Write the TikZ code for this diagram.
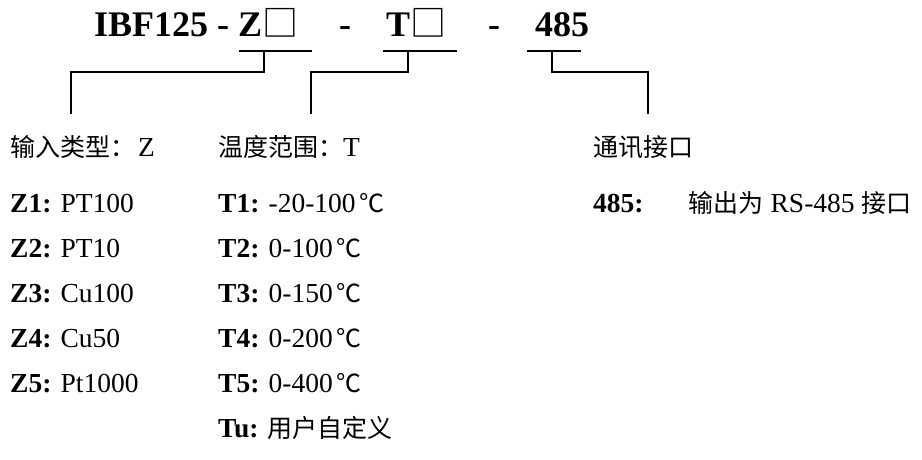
\documentclass[tikz,border=0pt]{standalone}
\usepackage{fontspec}
\setmainfont{Liberation Serif}
\newfontfamily\cjk{Noto Sans CJK SC}
\newcommand\zh[1]{{\cjk\fontsize{25}{30}\selectfont #1}}
\newcommand\sqbox{{\cjk\mdseries\fontsize{36}{40}\selectfont □}}
\tikzset{
  titletext/.style={font=\fontsize{36}{40}\selectfont\bfseries, inner sep=0pt, anchor=base west},
  rowtext/.style={font=\fontsize{27.5}{30}\selectfont, inner sep=0pt, anchor=base west},
  conn/.style={draw=black, line width=1.3pt}
}
\begin{document}
\begin{tikzpicture}[x=1pt,y=-1pt]
\useasboundingbox (0,0) rectangle (922,459);
% title
\node[titletext] (t1) at (94,36) {IBF125 - Z\sqbox};
\node[titletext, anchor=base] (d1) at (345,36) {-};
\node[titletext] (t2) at (386,36) {T\sqbox};
\node[titletext, anchor=base] (d2) at (494,36) {-};
\node[titletext, anchor=base] (t3) at (562,36) {485};
% connector coordinates
\coordinate (za) at (239,51); \coordinate (zb) at (312,51); \coordinate (zm) at (264,51);
\coordinate (ta) at (383,51); \coordinate (tb) at (457,51); \coordinate (tm) at (408,51);
\coordinate (ra) at (527,51); \coordinate (rb) at (581,51); \coordinate (rm) at (552,51);
\coordinate (ze) at (71,114); \coordinate (te) at (311,114); \coordinate (re) at (648,114);
\draw[conn] (za) -- (zb);
\draw[conn] (ta) -- (tb);
\draw[conn] (ra) -- (rb);
\draw[conn] (zm) -- ++(0,21) -| (ze);
\draw[conn] (tm) -- ++(0,21) -| (te);
\draw[conn] (rm) -- ++(0,21) -| (re);
% column 1
\node[rowtext] (h1) at (10,156) {\zh{输入类型：}\hspace{3pt}Z};
\node[rowtext] (z1) at (10,212) {\textbf{Z1:} PT100};
\node[rowtext] (z2) at (10,257) {\textbf{Z2:} PT10};
\node[rowtext] (z3) at (10,302) {\textbf{Z3:} Cu100};
\node[rowtext] (z4) at (10,347) {\textbf{Z4:} Cu50};
\node[rowtext] (z5) at (10,392) {\textbf{Z5:} Pt1000};
% column 2
\node[rowtext] (h2) at (218,156) {\zh{温度范围：}T};
\node[rowtext] (r1) at (218,212) {\textbf{T1:} -20-100\zh{\,℃}};
\node[rowtext] (r2) at (218,257) {\textbf{T2:} 0-100\zh{\,℃}};
\node[rowtext] (r3) at (218,302) {\textbf{T3:} 0-150\zh{\,℃}};
\node[rowtext] (r4) at (218,347) {\textbf{T4:} 0-200\zh{\,℃}};
\node[rowtext] (r5) at (218,392) {\textbf{T5:} 0-400\zh{\,℃}};
\node[rowtext] (r6) at (218,437) {\textbf{Tu:} \zh{用户自定义}};
% column 3
\node[rowtext] (h3) at (593,156) {\zh{通讯接口}};
\node[rowtext] (c1) at (593,212) {\textbf{485:}\hspace{36pt} \zh{输出为} RS-485 \zh{接口}};
\end{tikzpicture}
\end{document}
